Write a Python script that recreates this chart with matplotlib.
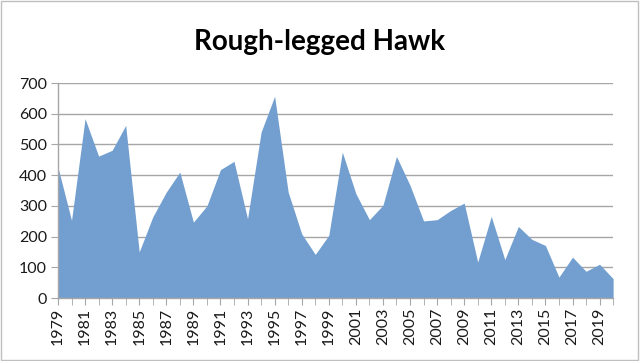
import matplotlib
matplotlib.use('Agg')
import matplotlib.pyplot as plt
from matplotlib.patches import Rectangle
import numpy as np

years = list(range(1979, 2021))
counts = [425, 253, 584, 462, 481, 562, 150, 264, 345, 410,
          247, 300, 418, 445, 258, 540, 657, 345, 209, 142,
          204, 475, 340, 255, 302, 461, 367, 251, 255, 285,
          309, 117, 266, 125, 233, 191, 171, 68, 133, 87,
          110, 63]
y_ticks = [0, 100, 200, 300, 400, 500, 600, 700]
title = 'Rough-legged Hawk'

plt.rcParams['font.family'] = ['Lato', 'DejaVu Sans']

fig = plt.figure(figsize=(6.4, 3.61), dpi=100)
fig.patch.set_facecolor('white')
fig.patches.append(Rectangle((0.002, 0.003), 0.995, 0.993, transform=fig.transFigure,
                             fill=False, edgecolor='#bfbfbf', linewidth=1.0))

ax = fig.add_axes([0.0906, 0.1745, 0.8674, 0.5955])
ax.fill_between(years, counts, 0, color='#729fcf', linewidth=0)

ax.set_xlim(years[0], years[-1])
ax.set_ylim(0, 700)
ax.set_yticks(y_ticks)
ax.yaxis.grid(True, color='#a6a6a6', linewidth=1.0)
ax.set_axisbelow(True)

ax.set_xticks(years[::2])
ax.set_xticks(years, minor=True)
ax.set_xticklabels([str(y) for y in years[::2]], rotation=90)

for s in ['top', 'right']:
    ax.spines[s].set_visible(False)
for s in ['left', 'bottom']:
    ax.spines[s].set_color('#a6a6a6')
    ax.spines[s].set_linewidth(1.0)

ax.tick_params(axis='x', which='both', direction='out', length=5, color='#a6a6a6',
               labelsize=11.5, pad=2, labelcolor='#1a1a1a')
ax.tick_params(axis='y', length=5, color='#a6a6a6', labelsize=11.5, pad=3, labelcolor='#1a1a1a')

fig.text(0.5, 0.885, title, ha='center', va='center', fontsize=20, fontweight='bold')

fig.savefig('out.png', dpi=100)
